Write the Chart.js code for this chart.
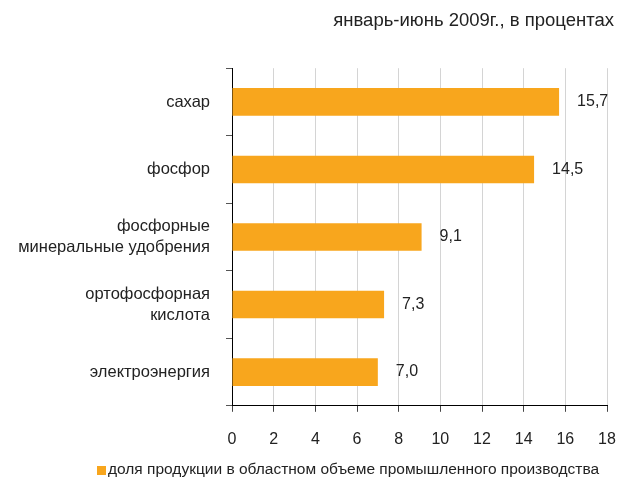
<!DOCTYPE html>
<html>
<head>
<meta charset="utf-8">
<script src="https://cdn.jsdelivr.net/npm/chart.js@4"></script>
<style>
  html, body { margin: 0; padding: 0; background: #fff; }
  #wrap { width: 617px; height: 477px; }
</style>
</head>
<body>
<div id="wrap"><canvas id="chart"></canvas></div>
<script>
const categories = ['сахар', 'фосфор', ['фосфорные', 'минеральные удобрения'], ['ортофосфорная', 'кислота'], 'электроэнергия'];
const shares = [15.7, 14.5, 9.1, 7.3, 7.0];
const xTicks = [0, 2, 4, 6, 8, 10, 12, 14, 16, 18];
const seriesName = 'доля продукции в областном объеме промышленного производства';
const titleText = 'январь-июнь 2009г., в процентах';

const FONT = "'Liberation Sans', Arial, sans-serif";
const barColor = '#F8A61D';

// value labels to the right of each bar
const valueLabels = {
  id: 'valueLabels',
  afterDatasetsDraw(chart) {
    const ctx = chart.ctx;
    const meta = chart.getDatasetMeta(0);
    ctx.save();
    ctx.font = '16px ' + FONT;
    ctx.fillStyle = '#222';
    ctx.textAlign = 'left';
    ctx.textBaseline = 'middle';
    meta.data.forEach((bar, i) => {
      ctx.fillText(shares[i].toFixed(1).replace('.', ','), bar.x + 18, bar.y);
    });
    ctx.restore();
  }
};

// small legend at the bottom (box sits close to the text)
const bottomLegend = {
  id: 'bottomLegend',
  afterDraw(chart) {
    const ctx = chart.ctx;
    const y = chart.height - 7;
    ctx.save();
    ctx.fillStyle = barColor;
    ctx.fillRect(97, y - 4, 9, 9);
    ctx.font = '15.5px ' + FONT;
    ctx.fillStyle = '#222';
    ctx.textAlign = 'left';
    ctx.textBaseline = 'middle';
    ctx.fillText(chart.data.datasets[0].label, 108, y);
    ctx.restore();
  }
};

Chart.defaults.font.family = FONT;
Chart.defaults.color = '#222';

new Chart(document.getElementById('chart'), {
  type: 'bar',
  data: {
    labels: categories,
    datasets: [{
      label: seriesName,
      data: shares,
      backgroundColor: barColor,
      borderWidth: 0,
      categoryPercentage: 0.41,
      barPercentage: 1
    }]
  },
  options: {
    indexAxis: 'y',
    responsive: true,
    maintainAspectRatio: false,
    animation: false,
    layout: { padding: { left: 0, right: 3, top: 0, bottom: 10 } },
    plugins: {
      title: {
        display: true,
        text: titleText,
        align: 'end',
        color: '#222',
        font: { size: 18.5, weight: 'normal' },
        padding: { top: 10, bottom: 36 }
      },
      legend: { display: false },
      tooltip: { enabled: false }
    },
    scales: {
      x: {
        min: 0,
        max: 18,
        afterBuildTicks: s => { s.ticks = xTicks.map(v => ({ value: v })); },
        afterFit: s => { s.paddingLeft = 0; s.paddingRight = 10; },
        ticks: { color: '#222', font: { size: 16 }, padding: 18 },
        grid: { color: '#d4d4d4', tickColor: '#444', tickLength: 6 },
        border: { color: '#000', width: 1 }
      },
      y: {
        afterFit: s => { s.width = 232; s.paddingTop = 0; s.paddingBottom = 0; },
        ticks: { color: '#222', font: { size: 16.5, lineHeight: 1.28 }, padding: 16 },
        grid: { offset: true, drawOnChartArea: false, tickColor: '#555', tickLength: 6 },
        border: { color: '#000', width: 1 }
      }
    }
  },
  plugins: [valueLabels, bottomLegend]
});
</script>
</body>
</html>
